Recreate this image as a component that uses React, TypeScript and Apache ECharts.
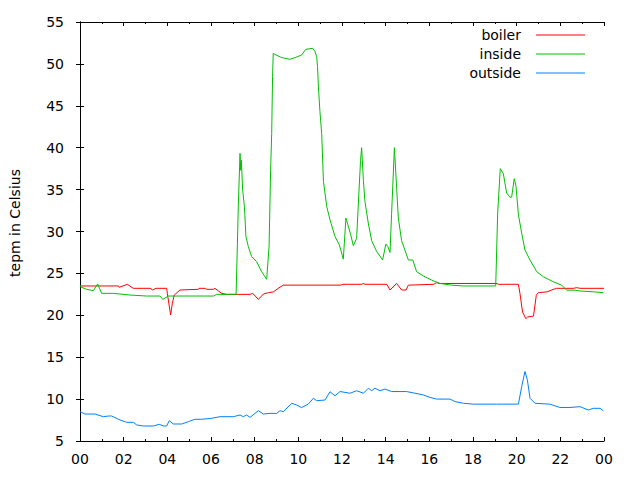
import React, { useEffect, useRef } from "react";
import * as echarts from "echarts";

// hours of day (0..24) and temperatures in Celsius
const boilerHours = [0, 0.05, 1.76, 1.8, 2.17, 2.44, 3.21, 3.33, 3.48, 3.97, 4.0, 4.15, 4.23, 4.32, 4.58, 5.42, 5.45, 5.73, 5.8, 6.11, 6.18, 6.34, 6.49, 6.72, 7.79, 7.91, 8.17, 8.4, 8.63, 8.86, 9.08, 9.31, 11.95, 12.05, 12.9, 12.98, 13.05, 14.05, 14.2, 14.5, 14.73, 14.93, 15.04, 16.2, 16.34, 16.45, 19.1, 19.15, 20.08, 20.15, 20.27, 20.42, 20.5, 20.77, 20.9, 20.99, 21.4, 21.6, 21.83, 22.6, 22.75, 22.9, 24.0];
const boilerTemps = [23.6, 23.5, 23.5, 23.34, 23.7, 23.22, 23.22, 23.02, 23.22, 23.22, 22.62, 20.04, 21.43, 22.42, 23.02, 23.1, 23.22, 23.22, 23.1, 23.1, 23.22, 22.9, 22.62, 22.5, 22.5, 22.62, 21.9, 22.54, 22.7, 22.8, 23.22, 23.6, 23.6, 23.7, 23.7, 23.8, 23.7, 23.7, 23.02, 23.8, 23.02, 23.02, 23.6, 23.7, 23.9, 23.8, 23.8, 23.7, 23.7, 22.62, 20.4, 19.6, 19.8, 19.9, 22.4, 22.7, 22.8, 23.02, 23.22, 23.22, 23.3, 23.22, 23.22];

const insideHours = [0, 0.3, 0.61, 0.81, 0.99, 1.53, 2.29, 3.05, 3.66, 3.79, 4.05, 6.11, 6.26, 7.15, 7.21, 7.25, 7.33, 7.36, 7.39, 7.45, 7.53, 7.6, 7.71, 7.86, 8.09, 8.32, 8.55, 8.66, 8.73, 8.78, 8.82, 8.85, 8.91, 9.24, 9.62, 9.85, 10.15, 10.34, 10.66, 10.76, 10.84, 10.88, 10.92, 10.99, 11.07, 11.15, 11.3, 11.45, 11.68, 11.88, 12.06, 12.18, 12.26, 12.4, 12.52, 12.67, 12.75, 12.85, 12.9, 12.98, 13.05, 13.21, 13.36, 13.59, 13.86, 14.01, 14.1, 14.2, 14.27, 14.4, 14.5, 14.58, 14.73, 15.04, 15.24, 15.42, 15.72, 16.11, 16.49, 17.02, 17.56, 19.04, 19.13, 19.25, 19.39, 19.54, 19.69, 19.77, 19.89, 19.97, 20.08, 20.23, 20.38, 20.61, 20.92, 21.22, 21.68, 22.06, 22.29, 22.67, 22.9, 23.51, 23.97];
const insideTemps = [23.42, 23.1, 22.94, 23.74, 22.62, 22.62, 22.42, 22.3, 22.3, 21.9, 22.3, 22.3, 22.5, 22.5, 28.6, 33.0, 39.33, 37.3, 38.5, 34.95, 33.0, 29.38, 28.2, 27.0, 26.4, 25.2, 24.3, 28.2, 37.3, 41.7, 48.5, 51.26, 51.15, 50.75, 50.55, 50.75, 51.06, 51.74, 51.86, 51.48, 50.86, 49.67, 47.28, 44.3, 41.7, 36.0, 33.0, 31.4, 29.4, 28.4, 26.7, 31.6, 30.9, 29.6, 28.3, 29.2, 33.4, 38.5, 40.0, 36.1, 33.6, 30.9, 28.9, 27.6, 26.6, 28.5, 28.2, 27.5, 32.0, 40.0, 35.3, 31.6, 28.9, 26.6, 26.6, 25.2, 24.7, 24.2, 23.8, 23.6, 23.5, 23.5, 32.2, 37.5, 36.9, 34.6, 34.1, 34.1, 36.3, 35.4, 32.0, 29.8, 27.8, 26.6, 25.2, 24.6, 24.0, 23.6, 23.0, 23.0, 22.9, 22.8, 22.7];

const outsideHours = [0, 0.23, 0.69, 1.07, 1.3, 1.45, 1.83, 2.14, 2.44, 2.6, 2.9, 3.36, 3.63, 3.82, 3.97, 4.09, 4.27, 4.66, 4.96, 5.27, 5.57, 6.03, 6.41, 7.02, 7.33, 7.48, 7.63, 7.79, 8.17, 8.4, 8.7, 9.01, 9.16, 9.31, 9.7, 9.92, 10.15, 10.46, 10.69, 10.84, 11.22, 11.45, 11.68, 11.91, 12.37, 12.67, 12.98, 13.21, 13.36, 13.51, 13.74, 13.97, 14.27, 14.96, 15.34, 15.72, 16.03, 16.34, 16.95, 17.18, 17.56, 18.01, 19.08, 19.69, 20.08, 20.23, 20.38, 20.49, 20.61, 20.84, 21.52, 21.98, 22.44, 22.9, 23.28, 23.51, 23.82, 23.97];
const outsideTemps = [8.5, 8.22, 8.22, 7.9, 7.98, 7.98, 7.51, 7.23, 7.23, 6.91, 6.79, 6.79, 6.99, 6.79, 6.79, 7.43, 7.03, 7.03, 7.31, 7.59, 7.59, 7.71, 7.9, 7.9, 8.1, 7.9, 8.1, 7.82, 8.62, 8.22, 8.3, 8.3, 8.62, 8.5, 9.5, 9.3, 8.98, 9.42, 10.1, 9.81, 9.89, 10.88, 10.4, 10.9, 10.7, 11.0, 10.7, 11.3, 11.0, 11.3, 11.0, 11.2, 10.9, 10.9, 10.7, 10.5, 10.2, 10.0, 10.0, 9.7, 9.5, 9.4, 9.4, 9.4, 9.4, 11.5, 13.3, 12.3, 10.1, 9.5, 9.4, 9.0, 9.0, 9.1, 8.7, 8.9, 8.9, 8.6];

const seriesNames = ["boiler", "inside", "outside"];
const seriesColors = ["#ff0000", "#00c000", "#0080ff"];
const yAxisTitle = "tepm in Celsius";

const zip = (xs: number[], ys: number[]) => xs.map((x, i) => [x, ys[i]]);

const FONT = "DejaVu Sans";

export default function App() {
  const ref = useRef<HTMLDivElement>(null);
  useEffect(() => {
    if (!ref.current) return;
    const chart = echarts.init(ref.current, null, { renderer: "svg" });
    const data = [zip(boilerHours, boilerTemps), zip(insideHours, insideTemps), zip(outsideHours, outsideTemps)];
    const hourFmt = (v: number) => String(Math.round(v) % 24).padStart(2, "0");
    const axisLine = { show: true, lineStyle: { color: "#000", width: 1 } };
    const xCommon = {
      type: "value" as const,
      min: 0,
      max: 24,
      interval: 2,
      axisLine,
      axisTick: { show: true, inside: true, length: 4, lineStyle: { color: "#000" } },
      minorTick: { show: true, splitNumber: 2, length: 2, lineStyle: { color: "#000" } },
      splitLine: { show: false },
    };
    const yCommon = {
      type: "value" as const,
      min: 5,
      max: 55,
      interval: 5,
      axisLine,
      axisTick: { show: true, inside: true, length: 4, lineStyle: { color: "#000" } },
      splitLine: { show: false },
    };
    const legendX1 = 536;
    const legendX2 = 585;
    const legendRows = [35, 54, 73];
    const graphics: any[] = [];
    seriesNames.forEach((n, i) => {
      graphics.push({
        type: "text",
        x: 521,
        y: legendRows[i],
        style: { text: n, fill: "#000", font: `14px "${FONT}"`, textAlign: "right", textVerticalAlign: "middle" },
      });
      graphics.push({
        type: "line",
        shape: { x1: legendX1, y1: legendRows[i], x2: legendX2, y2: legendRows[i] },
        style: { stroke: seriesColors[i], lineWidth: 1 },
      });
    });
    graphics.push({
      type: "text",
      x: 15,
      y: 223,
      rotation: Math.PI / 2,
      style: { text: yAxisTitle, fill: "#000", font: `14px "${FONT}"`, textAlign: "center", textVerticalAlign: "middle" },
    });
    chart.setOption({
      animation: false,
      backgroundColor: "#fff",
      textStyle: { fontFamily: FONT },
      grid: { left: 80, right: 36, top: 22, bottom: 39, containLabel: false },
      xAxis: [
        {
          ...xCommon,
          position: "bottom",
          axisLabel: { show: true, formatter: hourFmt, color: "#000", fontSize: 14, fontFamily: FONT, margin: 11 },
        },
        { ...xCommon, position: "top", axisLabel: { show: false } },
      ],
      yAxis: [
        {
          ...yCommon,
          position: "left",
          axisLabel: { show: true, color: "#000", fontSize: 14, fontFamily: FONT, margin: 16 },
        },
        { ...yCommon, position: "right", axisLabel: { show: false } },
      ],
      series: seriesNames.map((n, i) => ({
        name: n,
        type: "line",
        data: data[i],
        showSymbol: false,
        symbol: "none",
        lineStyle: { color: seriesColors[i], width: 1 },
        itemStyle: { color: seriesColors[i] },
        xAxisIndex: 0,
        yAxisIndex: 0,
      })),
      graphic: graphics,
    });
    return () => chart.dispose();
  }, []);
  return (
    <div
      ref={ref}
      style={{ position: "fixed", left: 0, top: 0, width: 640, height: 480, background: "#fff" }}
    />
  );
}
